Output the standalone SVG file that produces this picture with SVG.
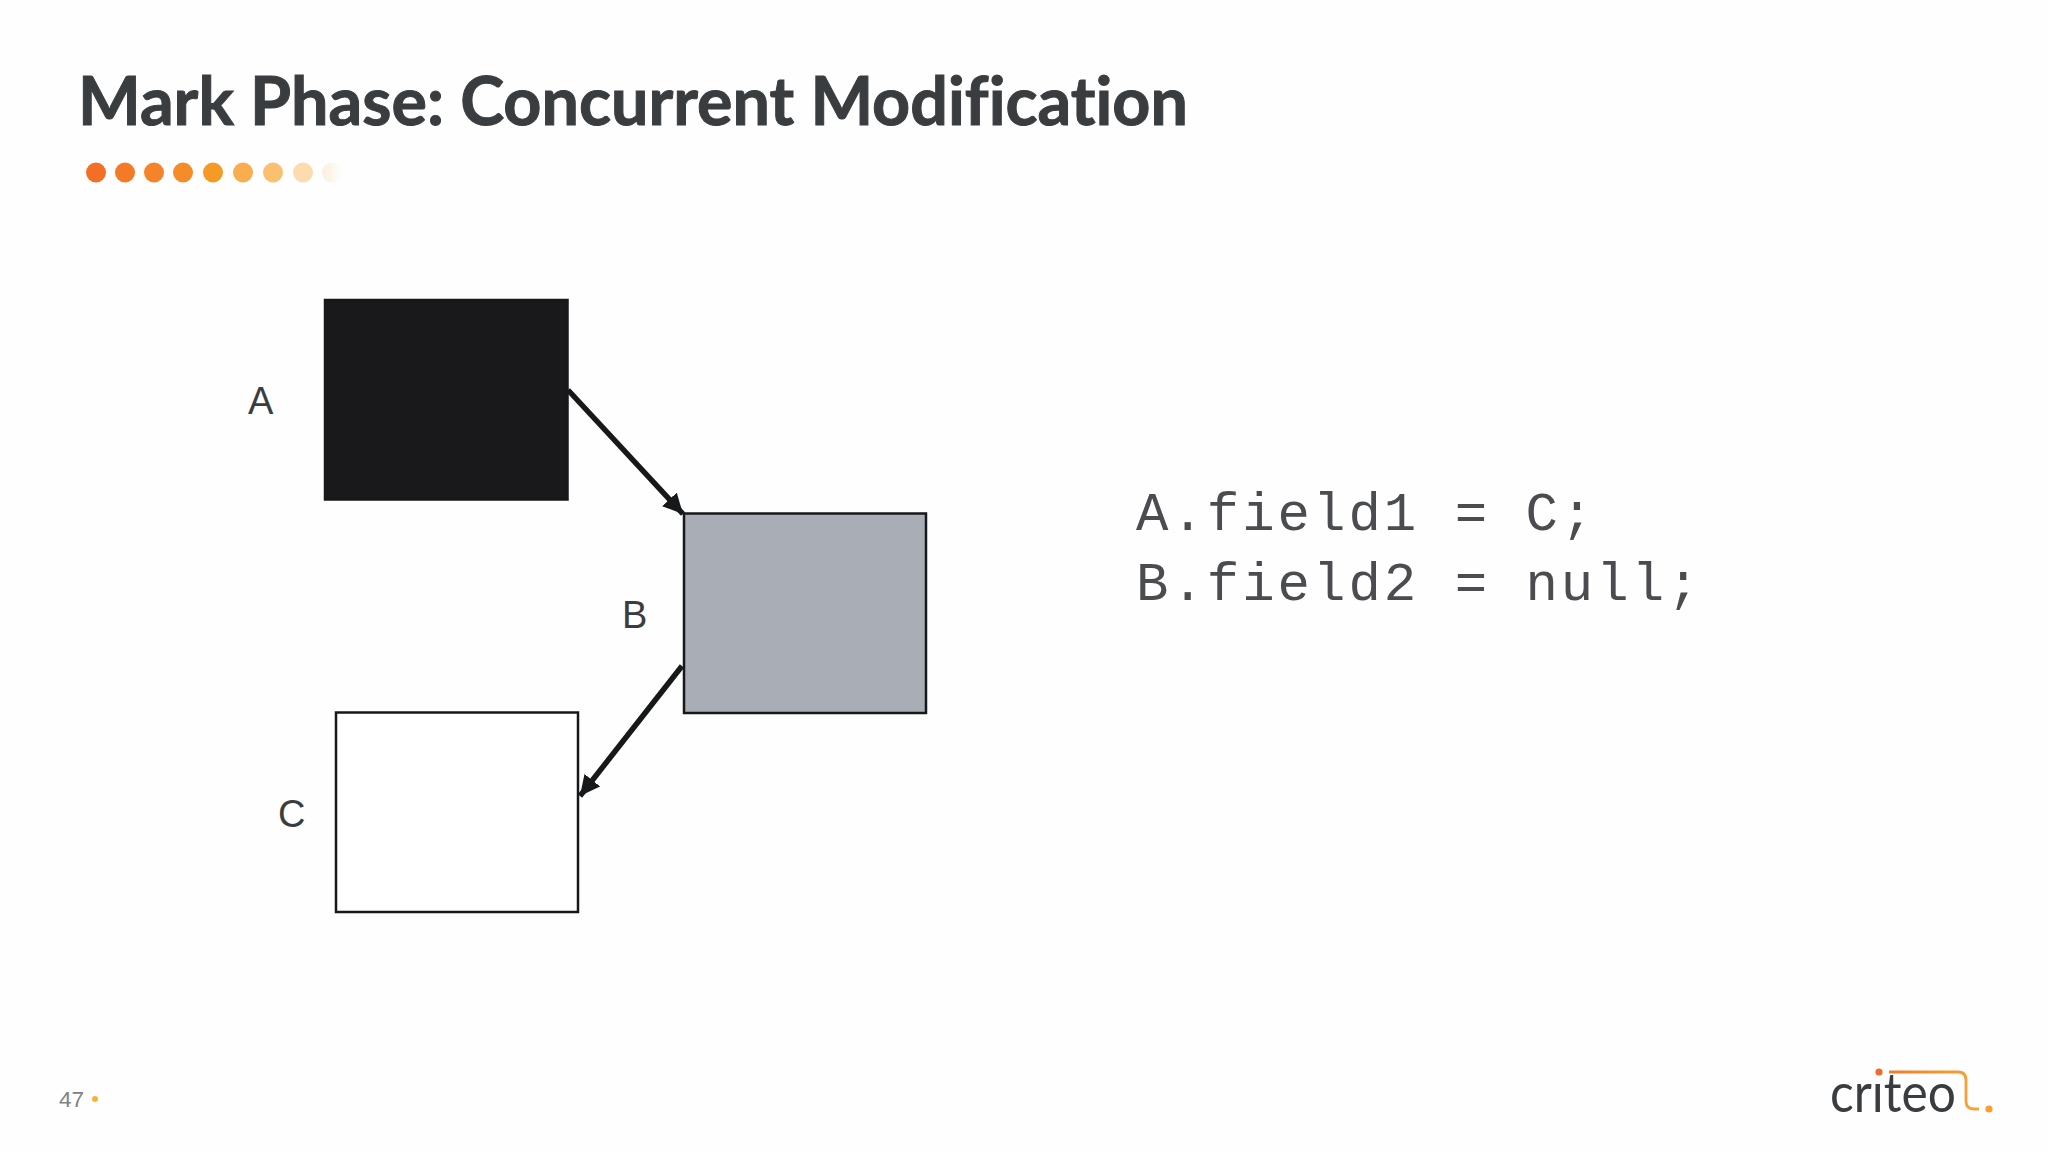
<svg xmlns="http://www.w3.org/2000/svg" width="2048" height="1152" viewBox="0 0 2048 1152">
<style>
.lbl{font-family:"Liberation Sans",Arial,sans-serif;font-size:38px;fill:#3a3c3f}
.code{font-family:"Liberation Mono","Courier New",monospace;font-size:54px;letter-spacing:3px;fill:#4a4c4f}
.box{stroke:#17181a;stroke-width:2.5}
.conn{stroke:#17181a;stroke-width:5.5;fill:none;marker-end:url(#ah)}
</style>
<defs>
<marker id="ah" markerUnits="userSpaceOnUse" markerWidth="20" markerHeight="20" refX="16" refY="8" orient="auto" viewBox="0 0 16 16"><path d="M0 0L16 8L0 16Z" fill="#17181a"/></marker>
<linearGradient id="lg" gradientUnits="userSpaceOnUse" x1="1889" y1="0" x2="1979" y2="0"><stop offset="0" stop-color="#ef7d2c"/><stop offset="1" stop-color="#f7a535"/></linearGradient>
<linearGradient id="fade" gradientUnits="userSpaceOnUse" x1="322" y1="0" x2="343" y2="0"><stop offset="0" stop-color="#fceedd"/><stop offset="1" stop-color="#fefefe"/></linearGradient>
</defs>
<rect width="2048" height="1152" fill="#fefefe"/>
<text id="title" x="78" y="125" font-family="Lato,'Liberation Sans',sans-serif" font-weight="700" font-size="67" fill="#3a3d40" stroke="#3a3d40" stroke-width="1" style="font-variant-ligatures:none" textLength="1110" lengthAdjust="spacingAndGlyphs">Mark Phase: Concurrent Modification</text>
<g id="dots">
<circle cx="96" cy="172.5" r="10" fill="#f36f24"/>
<circle cx="125" cy="172.5" r="10" fill="#f47a27"/>
<circle cx="154" cy="172.5" r="10" fill="#f5832a"/>
<circle cx="183" cy="172.5" r="10" fill="#f68b2a"/>
<circle cx="213" cy="172.5" r="10" fill="#f69a26"/>
<circle cx="243" cy="172.5" r="10" fill="#f8ad4e"/>
<circle cx="273" cy="172.5" r="10" fill="#fac070"/>
<circle cx="303" cy="172.5" r="10" fill="#fcdcaf"/>
<circle cx="332" cy="172.5" r="10" fill="url(#fade)"/>
</g>
<g id="connectors">
<line class="conn" x1="568" y1="390" x2="683" y2="514"/>
<line class="conn" x1="682" y1="666" x2="580" y2="796"/>
</g>
<g id="node-a">
<rect class="box" x="325" y="300" width="242.500" height="199.500" fill="#19191b"/>
<text class="lbl" x="248" y="414">A</text>
</g>
<g id="node-b">
<rect class="box" x="684" y="513.500" width="242" height="199.500" fill="#a9adb5"/>
<text class="lbl" x="622" y="628">B</text>
</g>
<g id="node-c">
<rect class="box" x="336" y="712.500" width="242" height="199.500" fill="#ffffff"/>
<text class="lbl" x="278" y="827">C</text>
</g>
<g id="code">
<text class="code" x="1136" y="530" xml:space="preserve">A.field1 = C;</text>
<text class="code" x="1136" y="600" xml:space="preserve">B.field2 = null;</text>
</g>
<g id="page">
<text x="59" y="1107" font-family="'Liberation Sans',Arial,sans-serif" font-size="22.5" fill="#808285">47</text>
<circle cx="95" cy="1099" r="3" fill="#f9b233"/>
</g>
<g id="logo">
<text x="1830" y="1112" font-family="Lato,'Liberation Sans',sans-serif" font-weight="400" font-size="54" fill="#3a3d40" textLength="126" lengthAdjust="spacingAndGlyphs">criteo</text>
<circle cx="1877" cy="1075" r="6" fill="#fefefe"/>
<circle cx="1879" cy="1072" r="3.600" fill="#ee6c2b"/>
<path d="M1889 1072H1958Q1966 1072 1966 1080V1101Q1966 1109 1974 1109H1979" fill="none" stroke="url(#lg)" stroke-width="2.800"/>
<circle cx="1989" cy="1109" r="3.600" fill="#f7a030"/>
</g>
</svg>
